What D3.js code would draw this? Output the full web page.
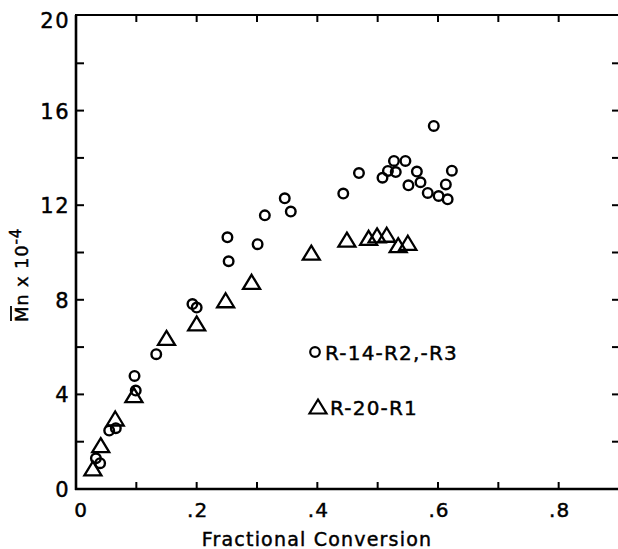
<!DOCTYPE html>
<html>
<head>
<meta charset="utf-8">
<script src="https://cdn.jsdelivr.net/npm/d3@7"></script>
<style>
  body { margin: 0; background: #fff; }
  svg { display: block; }
  text { font-family: "DejaVu Sans", sans-serif; fill: #000; stroke: #000; stroke-width: 0.45; }
</style>
</head>
<body>
<svg class="chart"></svg>
<script>
'use strict'

// R-14-R2,-R3 (circles): fractional conversion, Mn x 10^-4
const circleX = [0.033, 0.040, 0.055, 0.066, 0.097, 0.099, 0.133, 0.193, 0.200, 0.251,
  0.253, 0.301, 0.313, 0.346, 0.356, 0.443, 0.469, 0.508, 0.517, 0.527,
  0.530, 0.546, 0.551, 0.565, 0.571, 0.583, 0.593, 0.601, 0.613, 0.616, 0.623]
const circleY = [1.30, 1.09, 2.47, 2.57, 4.78, 4.16, 5.70, 7.82, 7.67, 10.64,
  9.63, 10.35, 11.57, 12.29, 11.73, 12.49, 13.36, 13.16, 13.45, 13.87,
  13.40, 13.87, 12.84, 13.42, 12.97, 12.52, 15.35, 12.39, 12.88, 12.25, 13.46]

// R-20-R1 (triangles)
const triX = [0.028, 0.041, 0.065, 0.096, 0.150, 0.200, 0.248, 0.291, 0.390, 0.449,
  0.485, 0.499, 0.515, 0.534, 0.550]
const triY = [0.85, 1.83, 2.96, 3.95, 6.37, 6.98, 7.96, 8.74, 9.97, 10.52,
  10.60, 10.70, 10.73, 10.29, 10.39]

const xTickLabels = ['0', '.2', '.4', '.6', '.8']
const yTickLabels = ['0', '4', '8', '12', '16', '20']

const width = 618
const height = 549

const svg = d3.select('.chart')
  .attr('width', width)
  .attr('height', height)

const x = d3.scaleLinear().domain([0, 0.9]).range([76, 619])
const y = d3.scaleLinear().domain([0, 20]).range([489, 16])

// frame: left, bottom, top
const frame = svg.append('g').attr('stroke', '#000').attr('fill', 'none')
frame.append('line')
  .attr('x1', x(0)).attr('x2', x(0)).attr('y1', y(20) - 1).attr('y2', y(0) + 1)
  .attr('stroke-width', 2.6)
frame.append('line')
  .attr('x1', x(0) - 1).attr('x2', width).attr('y1', y(0)).attr('y2', y(0))
  .attr('stroke-width', 2.6)
frame.append('line')
  .attr('x1', x(0) - 1).attr('x2', width).attr('y1', y(20) - 1).attr('y2', y(20) - 1)
  .attr('stroke-width', 2.2)

// inward ticks on all four sides
const xTicks = d3.range(1, 10).map(d => d / 10)
const yTicks = d3.range(1, 10).map(d => d * 2)
const ticks = svg.append('g').attr('stroke', '#000').attr('stroke-width', 2)
ticks.selectAll('.tb').data(xTicks).join('line')
  .attr('x1', d => x(d)).attr('x2', d => x(d))
  .attr('y1', y(0)).attr('y2', y(0) - 7)
ticks.selectAll('.tt').data(xTicks.slice(0, 8)).join('line')
  .attr('x1', d => x(d)).attr('x2', d => x(d))
  .attr('y1', y(20) - 1).attr('y2', y(20) + 6)
ticks.selectAll('.tl').data(yTicks).join('line')
  .attr('x1', x(0)).attr('x2', x(0) + 8)
  .attr('y1', d => y(d)).attr('y2', d => y(d))
ticks.selectAll('.tr').data(yTicks).join('line')
  .attr('x1', 612).attr('x2', width)
  .attr('y1', d => y(d)).attr('y2', d => y(d))

// tick labels
svg.append('g').selectAll('text').data(xTickLabels).join('text')
  .attr('x', (d, i) => x(i * 0.2) + (i === 0 ? 5 : 1))
  .attr('y', 517)
  .attr('text-anchor', 'middle')
  .attr('font-size', 20)
  .attr('letter-spacing', 1)
  .text(d => d)

svg.append('g').selectAll('text').data(yTickLabels).join('text')
  .attr('x', 70)
  .attr('y', (d, i) => y(i * 4) + 8 + (i === 5 ? 4 : 0))
  .attr('text-anchor', 'end')
  .attr('font-size', 21)
  .attr('letter-spacing', 1.5)
  .text(d => d)

// axis titles
svg.append('text')
  .attr('x', 317)
  .attr('y', 546)
  .attr('text-anchor', 'middle')
  .attr('font-size', 19)
  .attr('letter-spacing', 1.2)
  .text('Fractional Conversion')

const yTitle = svg.append('g').attr('transform', 'translate(28,322) rotate(-90)')
const yText = yTitle.append('text')
  .attr('x', 0)
  .attr('y', 0)
  .attr('font-size', 18)
  .attr('letter-spacing', 0.8)
yText.append('tspan').text('Mn x 10')
yText.append('tspan').attr('dy', -7).attr('font-size', 15).text('-4')
yTitle.append('line')
  .attr('x1', 1).attr('x2', 16)
  .attr('y1', -17).attr('y2', -17)
  .attr('stroke', '#000').attr('stroke-width', 1.8)

// marks
const triPath = 'M0,-7.5L8.5,6.5L-8.5,6.5Z'

svg.append('g').selectAll('circle').data(d3.range(circleX.length)).join('circle')
  .attr('cx', i => x(circleX[i]))
  .attr('cy', i => y(circleY[i]))
  .attr('r', 4.8)
  .attr('fill', 'none')
  .attr('stroke', '#000')
  .attr('stroke-width', 2.4)

svg.append('g').selectAll('path').data(d3.range(triX.length)).join('path')
  .attr('transform', i => `translate(${x(triX[i])},${y(triY[i])})`)
  .attr('d', triPath)
  .attr('fill', 'none')
  .attr('stroke', '#000')
  .attr('stroke-width', 2.3)
  .attr('stroke-linejoin', 'miter')

// legend
const legend = svg.append('g')
legend.append('circle')
  .attr('cx', 315).attr('cy', 352).attr('r', 4.8)
  .attr('fill', 'none').attr('stroke', '#000').attr('stroke-width', 2.2)
legend.append('text')
  .attr('x', 325).attr('y', 360)
  .attr('font-size', 20).attr('letter-spacing', 1.2)
  .text('R-14-R2,-R3')
legend.append('path')
  .attr('transform', 'translate(318,407)')
  .attr('d', triPath)
  .attr('fill', 'none').attr('stroke', '#000').attr('stroke-width', 2.2)
legend.append('text')
  .attr('x', 330).attr('y', 415)
  .attr('font-size', 20).attr('letter-spacing', 1.2)
  .text('R-20-R1')
</script>
</body>
</html>
